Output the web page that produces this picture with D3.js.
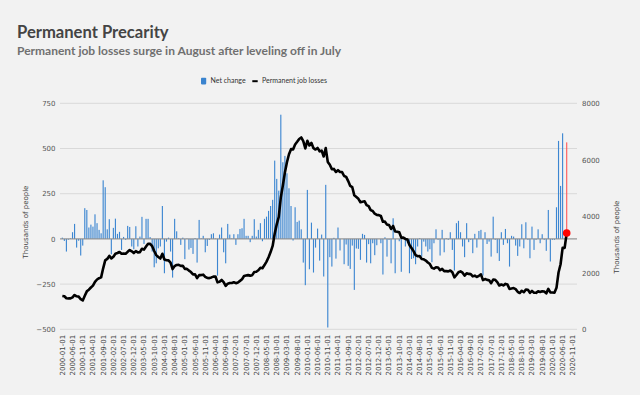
<!DOCTYPE html>
<html>
<head>
<meta charset="utf-8">
<script src="https://cdnjs.cloudflare.com/ajax/libs/d3/7.8.5/d3.min.js"></script>
<style>
  body { margin:0; background:#f2f2f2; }
  svg { display:block; font-family:"DejaVu Sans", sans-serif; }
  .title { font-family:Lato, sans-serif; font-weight:bold; font-size:16.6px; fill:#444; }
  .subtitle { font-family:Lato, sans-serif; font-weight:bold; font-size:12px; fill:#707070; }
  .legendText { font-family:Lato, sans-serif; font-size:7px; fill:#333; }
  .axis text { font-family:"DejaVu Sans", sans-serif; font-size:7px; fill:#555; }
  .xaxis text { font-family:"DejaVu Sans", sans-serif; font-size:7px; fill:#444; }
  .gridline { stroke:#d9d9d9; stroke-width:1; }
  .axisTitle { font-size:7px; fill:#444; }
</style>
</head>
<body>
<div id="chart"></div>
<script>

// monthly net change in permanent job losers (thousands), 2000-01 .. 2020-08
const netChange = [
  7, -11, -70, -4, 3, 37, 83, -48, -10, -92,
  -37, 170, 160, 63, 79, 68, 136, 87, 50, 31,
  324, 286, 53, 109, -85, 61, 112, 28, 39, -61,
  11, -5, 72, 66, -42, -57, 70, -42, 13, 122,
  -28, 111, 111, 10, -70, -157, -135, -52, -42, 182,
  -190, -15, 7, -70, -214, 111, 42, 4, -33, 7,
  -112, 2, -59, -50, -83, 5, -131, 105, 3, 17,
  -74, -39, -5, 26, 31, 2, -203, 24, 63, -74,
  -135, 83, 24, 3,
  26, -33, 26, 55, 59, 111, 17, 17, -18, 17,
  109, 13, 50, 87, -13, 111, 123, 155, 182, 216,
  433, 332, 267, 687, 424, 459, 363, 280, 182, -9,
  175, 94, 101, 53, -131, -256, 271, -168, 90, -186,
  -48, 57, -120, 24, -208, 299, -490, -101, -153, 6,
  -109, 63, -64, 0, -140, -31, -149, -166, -37, -282,
  -53, -55, -116, 28, 22, -131, -29, -135, -24, -90,
  -35, 0, -24, -197, 9, -98, -5, -135, 114, -190,
  0, -13, -182, 9,
  -42, -24, -190, -111, -107, -140, -42, 4, -98, -15,
  -42, -70, -57, -129, -24, 53, -5, -92, 50, -74,
  4, -5, 37, -61, -175, 87, 100, 37, -42, -101,
  87, -18, -5, -79, 28, -48, 44, 50, -203, 37,
  -28, -15, -98, 123, -5, -79, -122, 37, -33, 55,
  -24, -153, 17, 13, -37, -94, -42, 81, -52, 92,
  -5, -107, 68, -61, -5, 53, -24, 26, -5, -66,
  160, -125, -5, -5, 175, 542, 293, 584, 3, 534
];

// permanent job losers level (thousands)
const permanentLosses = [
  1179, 1168, 1098, 1093, 1096, 1132, 1215, 1167, 1157, 1065,
  1020, 1187, 1344, 1404, 1480, 1545, 1678, 1762, 1809, 1837,
  2158, 2441, 2491, 2597, 2509, 2567, 2676, 2701, 2737, 2673,
  2681, 2673, 2742, 2805, 2760, 2700, 2767, 2722, 2732, 2851,
  2820, 2928, 3027, 3024, 2942, 2772, 2625, 2560, 2506, 2675,
  2473, 2445, 2440, 2357, 2131, 2237, 2278, 2280, 2246, 2251,
  2138, 2138, 2078, 2027, 1942, 1946, 1814, 1917, 1919, 1934,
  1859, 1818, 1812, 1837, 1866, 1867, 1662, 1685, 1746, 1671,
  1535, 1616, 1639, 1640,
  1666, 1633, 1659, 1714, 1773, 1884, 1901, 1918, 1900, 1917,
  2026, 2039, 2089, 2176, 2163, 2274, 2397, 2552, 2734, 2950,
  3383, 3715, 3982, 4669, 5093, 5552, 5915, 6195, 6377, 6368,
  6543, 6637, 6738, 6791, 6660, 6404, 6675, 6507, 6597, 6411,
  6363, 6420, 6300, 6324, 6116, 6415, 5925, 5824, 5671, 5677,
  5568, 5631, 5567, 5567, 5427, 5396, 5247,
  5074, 5030, 4742, 4682, 4620, 4497, 4518, 4534, 4396, 4360,
  4218, 4187, 4091, 4049, 4042, 4011, 3807, 3810, 3705, 3693,
  3551, 3658, 3462, 3455, 3435, 3246, 3248,
  3200, 3176, 2986, 2875, 2768, 2628, 2586, 2590, 2492, 2477,
  2435, 2365, 2308, 2175, 2147, 2196, 2187, 2091, 2137, 2059,
  2059, 2050, 2083, 2018, 1839, 1922, 2018, 2051, 2005, 1900,
  1983, 1961, 1952, 1873, 1900, 1852, 1895, 1945, 1741, 1778,
  1749, 1734, 1635, 1758, 1752, 1673, 1550, 1587, 1553, 1608,
  1583, 1430, 1446, 1459, 1421, 1327, 1284, 1365, 1312, 1404,
  1398, 1291, 1358, 1297, 1291, 1344, 1319, 1345, 1339, 1273,
  1432, 1307, 1301, 1296, 1469, 2010, 2302, 2884, 2883, 3411
];

// x categories run to the end of 2020, data stops in August
const fmt = d3.timeFormat("%Y-%m-%d");
const months = d3.timeMonth.range(new Date(2000, 0, 1), new Date(2021, 0, 1)).map(fmt);
const tickMonths = months.filter((d, i) => i % 5 == 0);

const leftTicks = [-500, -250, 0, 250, 500, 750];
const rightTicks = [0, 2000, 4000, 6000, 8000];

const title = "Permanent Precarity";
const subtitle = "Permanent job losses surge in August after leveling off in July";

function draw() {

  let width = 640;
  let height = 395;
  let left = 60, right = 577, top = 103.3, bottom = 329.3;

  let svg = d3.select("#chart").append("svg")
    .attr("width", width)
    .attr("height", height)
  ;

  let xScale = d3.scaleBand()
    .domain(months)
    .range([61.3, 61.3 + months.length * 2.042])
    .paddingInner(0.45)
    .paddingOuter(0.225)
  ;
  let yLeft = d3.scaleLinear().domain([-500, 750]).range([bottom, top]);
  let yRight = d3.scaleLinear().domain([0, 8000]).range([bottom, top]);

  let data = netChange.map((v, i) => ({ month: months[i], change: v, level: permanentLosses[i] }));
  let last = data[data.length - 1];

  //titles
  svg.append("text").attr("class", "title").attr("x", 17).attr("y", 37.5).text(title);
  svg.append("text").attr("class", "subtitle").attr("x", 17).attr("y", 55).text(subtitle);

  //legend
  svg.append("rect").attr("x", 201).attr("y", 77.8).attr("width", 5.2).attr("height", 6.6)
    .attr("rx", 0.8).attr("fill", "#3a84cf");
  svg.append("text").attr("class", "legendText").attr("x", 210.5).attr("y", 83.3).text("Net change");
  svg.append("line").attr("x1", 252.3).attr("x2", 257.7).attr("y1", 81.2).attr("y2", 81.2)
    .attr("stroke", "#000").attr("stroke-width", 2);
  svg.append("text").attr("class", "legendText").attr("x", 262).attr("y", 83.3).text("Permanent job losses");

  //gridlines
  svg.selectAll(".gridline")
    .data(leftTicks)
    .enter()
    .append("line")
    .attr("class", "gridline")
    .attr("x1", left).attr("x2", right)
    .attr("y1", d => yLeft(d)).attr("y2", d => yLeft(d))
  ;

  //net change bars
  svg.selectAll("rect.bar")
    .data(data)
    .enter()
    .append("rect")
    .attr("class", "bar")
    .attr("x", d => xScale(d.month))
    .attr("width", xScale.bandwidth())
    .attr("y", d => yLeft(Math.max(0, d.change)))
    .attr("height", d => Math.abs(yLeft(d.change) - yLeft(0)))
    .attr("fill", (d, i) => i == data.length - 1 ? "#ff5b5b" : "#3c86d1")
  ;

  //zero line
  svg.append("line")
    .attr("x1", left).attr("x2", right)
    .attr("y1", yLeft(0)).attr("y2", yLeft(0))
    .attr("stroke", "#8c8c8c").attr("stroke-width", 1)
  ;

  //permanent job losses line
  let lineMaker = d3.line()
    .x(d => xScale(d.month) + xScale.bandwidth() / 2)
    .y(d => yRight(d.level))
  ;
  svg.append("path")
    .datum(data)
    .attr("d", lineMaker)
    .attr("fill", "none")
    .attr("stroke", "#000")
    .attr("stroke-width", 2.6)
    .attr("stroke-linejoin", "round")
  ;

  svg.append("circle")
    .attr("cx", xScale(last.month) + xScale.bandwidth() / 2)
    .attr("cy", yRight(last.level))
    .attr("r", 3.8)
    .attr("fill", "#ff0000")
  ;

  //left axis
  svg.append("g")
    .attr("class", "axis")
    .attr("transform", `translate(${left},0)`)
    .call(d3.axisLeft(yLeft).tickValues(leftTicks).tickSize(0).tickPadding(4.5))
    .call(g => g.select(".domain").remove())
  ;

  //right axis
  svg.append("g")
    .attr("class", "axis")
    .attr("transform", `translate(${right},0)`)
    .call(d3.axisRight(yRight).tickValues(rightTicks).tickFormat(d3.format("d")).tickSize(0).tickPadding(5))
    .call(g => g.select(".domain").remove())
  ;

  //x axis with rotated month labels
  svg.append("g")
    .attr("class", "xaxis")
    .attr("transform", `translate(0,${bottom})`)
    .call(d3.axisBottom(xScale).tickValues(tickMonths).tickSize(0))
    .call(g => g.select(".domain").remove())
    .selectAll("text")
    .attr("transform", "rotate(-90)")
    .attr("text-anchor", "end")
    .attr("x", -5.5)
    .attr("y", 0)
    .attr("dy", "0.35em")
  ;

  svg.append("text")
    .attr("class", "axisTitle")
    .attr("text-anchor", "middle")
    .attr("transform", "translate(27.5,222) rotate(-90)")
    .text("Thousands of people")
  ;
  svg.append("text")
    .attr("class", "axisTitle")
    .attr("text-anchor", "middle")
    .attr("transform", "translate(618.5,237) rotate(-90)")
    .text("Thousands of people")
  ;
}

draw();
</script>
</body>
</html>
